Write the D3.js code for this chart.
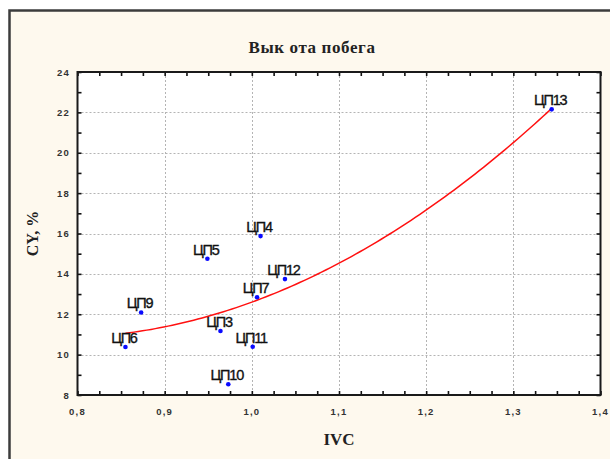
<!DOCTYPE html>
<html>
<head>
<meta charset="utf-8">
<script src="https://cdn.jsdelivr.net/npm/d3@7"></script>
<style>
  html, body { margin: 0; padding: 0; background: #ffffff; }
  svg { display: block; }
</style>
</head>
<body>
<svg id="chart" width="610" height="459"></svg>
<script>
// Sample names, IVC values and CV (%) values
const names = ["ЦП6", "ЦП9", "ЦП5", "ЦП3", "ЦП10", "ЦП11", "ЦП7", "ЦП4", "ЦП12", "ЦП13"];
const ivc   = [0.855, 0.873, 0.949, 0.964, 0.973, 1.001, 1.006, 1.010, 1.038, 1.344];
const cv    = [10.38, 12.09, 14.75, 11.17, 8.53, 10.39, 12.84, 15.87, 13.74, 22.15];

const xTicks = [0.8, 0.9, 1.0, 1.1, 1.2, 1.3, 1.4];
const yTicks = [8, 10, 12, 14, 16, 18, 20, 22, 24];

const titleText = "Вык ота побега";
const xTitle = "IVC";
const yTitle = "CY, %";

const svg = d3.select("#chart");
const W = 610, H = 459;
const plot = { left: 77.5, right: 600.5, top: 72, bottom: 395 };

const x = d3.scaleLinear().domain([0.8, 1.4]).range([plot.left, plot.right]);
const y = d3.scaleLinear().domain([8, 24]).range([plot.bottom, plot.top]);

// Outer panel
svg.append("rect").attr("x", 0).attr("y", 0).attr("width", W).attr("height", H).attr("fill", "#ffffff");
svg.append("rect")
  .attr("x", 9.5).attr("y", 10.5).attr("width", W + 20).attr("height", H + 20)
  .attr("fill", "#fef9ee").attr("stroke", "#3c3c3c").attr("stroke-width", 2.5);

// Plot area
svg.append("rect")
  .attr("x", plot.left).attr("y", plot.top)
  .attr("width", plot.right - plot.left).attr("height", plot.bottom - plot.top)
  .attr("fill", "#ffffff");

// Grid lines
const grid = svg.append("g").attr("stroke", "#b4b4b4").attr("stroke-width", 1).attr("stroke-dasharray", "2,2");
xTicks.slice(1, -1).forEach(v => {
  grid.append("line").attr("x1", Math.round(x(v)) + 0.5).attr("x2", Math.round(x(v)) + 0.5)
    .attr("y1", plot.top).attr("y2", plot.bottom);
});
yTicks.slice(1, -1).forEach(v => {
  grid.append("line").attr("y1", Math.round(y(v)) + 0.5).attr("y2", Math.round(y(v)) + 0.5)
    .attr("x1", plot.left).attr("x2", plot.right);
});

// Axes with inward ticks on all four sides
const fmt = v => d3.format(".1f")(v).replace(".", ",");
const minorX = d3.range(0.8, 1.4001, 0.025);
const minorY = d3.range(8, 24.001, 1);

const axisBottom = d3.axisBottom(x).tickValues(minorX).tickSize(-4).tickFormat("");
const axisTop = d3.axisTop(x).tickValues(minorX).tickSize(-4).tickFormat("");
const axisLeft = d3.axisLeft(y).tickValues(minorY).tickSize(-4).tickFormat("");
const axisRight = d3.axisRight(y).tickValues(minorY).tickSize(-4).tickFormat("");

function styleAxis(g) {
  g.select(".domain").remove();
  g.selectAll("line").attr("stroke", "#111").attr("stroke-width", 1.6);
}
svg.append("g").attr("transform", `translate(0,${plot.bottom})`).call(axisBottom).call(styleAxis);
svg.append("g").attr("transform", `translate(0,${plot.top})`).call(axisTop).call(styleAxis);
svg.append("g").attr("transform", `translate(${plot.left},0)`).call(axisLeft).call(styleAxis);
svg.append("g").attr("transform", `translate(${plot.right},0)`).call(axisRight).call(styleAxis);

// Frame
svg.append("rect")
  .attr("x", plot.left).attr("y", plot.top)
  .attr("width", plot.right - plot.left).attr("height", plot.bottom - plot.top)
  .attr("fill", "none").attr("stroke", "#1a1a1a").attr("stroke-width", 2);

// Tick labels
const tickFont = "'Liberation Sans', Arial, sans-serif";
svg.append("g").selectAll("text").data(xTicks).join("text")
  .attr("x", d => x(d)).attr("y", 415)
  .attr("text-anchor", "middle")
  .attr("font-family", tickFont).attr("font-size", 9.5).attr("font-weight", "bold")
  .attr("letter-spacing", 1.2)
  .attr("fill", "#333")
  .text(fmt);
svg.append("g").selectAll("text").data(yTicks).join("text")
  .attr("x", 70).attr("y", d => y(d) + 3.5)
  .attr("text-anchor", "end")
  .attr("font-family", tickFont).attr("font-size", 9.5).attr("font-weight", "bold")
  .attr("letter-spacing", 1.2)
  .attr("fill", "#333")
  .text(d => d);

// Quadratic least-squares fit of CV on IVC
function quadFit(xs, ys) {
  const n = xs.length;
  let s = [0, 0, 0, 0, 0], t = [0, 0, 0];
  for (let i = 0; i < n; i++) {
    let p = 1;
    for (let k = 0; k < 5; k++) { s[k] += p; if (k < 3) t[k] += p * ys[i]; p *= xs[i]; }
  }
  const A = [[s[0], s[1], s[2], t[0]], [s[1], s[2], s[3], t[1]], [s[2], s[3], s[4], t[2]]];
  for (let c = 0; c < 3; c++) {
    for (let r = c + 1; r < 3; r++) {
      const f = A[r][c] / A[c][c];
      for (let k = c; k < 4; k++) A[r][k] -= f * A[c][k];
    }
  }
  const b = [0, 0, 0];
  for (let r = 2; r >= 0; r--) {
    let v = A[r][3];
    for (let k = r + 1; k < 3; k++) v -= A[r][k] * b[k];
    b[r] = v / A[r][r];
  }
  return b;
}
const coef = quadFit(ivc, cv);
const [xmin, xmax] = d3.extent(ivc);
const fitPts = d3.range(0, 101).map(i => {
  const xv = xmin + (xmax - xmin) * i / 100;
  return [xv, coef[0] + coef[1] * xv + coef[2] * xv * xv];
});
svg.append("path")
  .datum(fitPts)
  .attr("fill", "none").attr("stroke", "#ff1010").attr("stroke-width", 1.5)
  .attr("d", d3.line().x(d => x(d[0])).y(d => y(d[1])));

// Points
const pts = names.map((n, i) => ({ name: n, x: ivc[i], y: cv[i] }));
svg.append("g").selectAll("circle").data(pts).join("circle")
  .attr("cx", d => x(d.x)).attr("cy", d => y(d.y)).attr("r", 2.3)
  .attr("fill", "#0a0aff");

// Point labels
svg.append("g").selectAll("text").data(pts).join("text")
  .attr("x", d => x(d.x) - 1.5).attr("y", d => y(d.y) - 4)
  .attr("text-anchor", "middle")
  .attr("font-family", "'Liberation Sans', Arial, sans-serif").attr("font-size", 14.5)
  .attr("letter-spacing", -1.2)
  .attr("fill", "#111").attr("stroke", "#111").attr("stroke-width", 0.35)
  .text(d => d.name);

// Titles
svg.append("text")
  .attr("x", 312).attr("y", 53)
  .attr("text-anchor", "middle")
  .attr("font-family", "'Liberation Serif', 'Times New Roman', serif")
  .attr("font-size", 17).attr("font-weight", "bold")
  .attr("letter-spacing", 0.6)
  .attr("fill", "#222")
  .text(titleText);
svg.append("text")
  .attr("x", (plot.left + plot.right) / 2).attr("y", 445)
  .attr("text-anchor", "middle")
  .attr("font-family", "'Liberation Serif', 'Times New Roman', serif")
  .attr("font-size", 17).attr("font-weight", "bold")
  .attr("fill", "#222")
  .text(xTitle);
svg.append("text")
  .attr("transform", `translate(38,${(plot.top + plot.bottom) / 2}) rotate(-90)`)
  .attr("text-anchor", "middle")
  .attr("font-family", "'Liberation Serif', 'Times New Roman', serif")
  .attr("font-size", 16).attr("font-weight", "bold")
  .attr("fill", "#222")
  .text(yTitle);
</script>
</body>
</html>
